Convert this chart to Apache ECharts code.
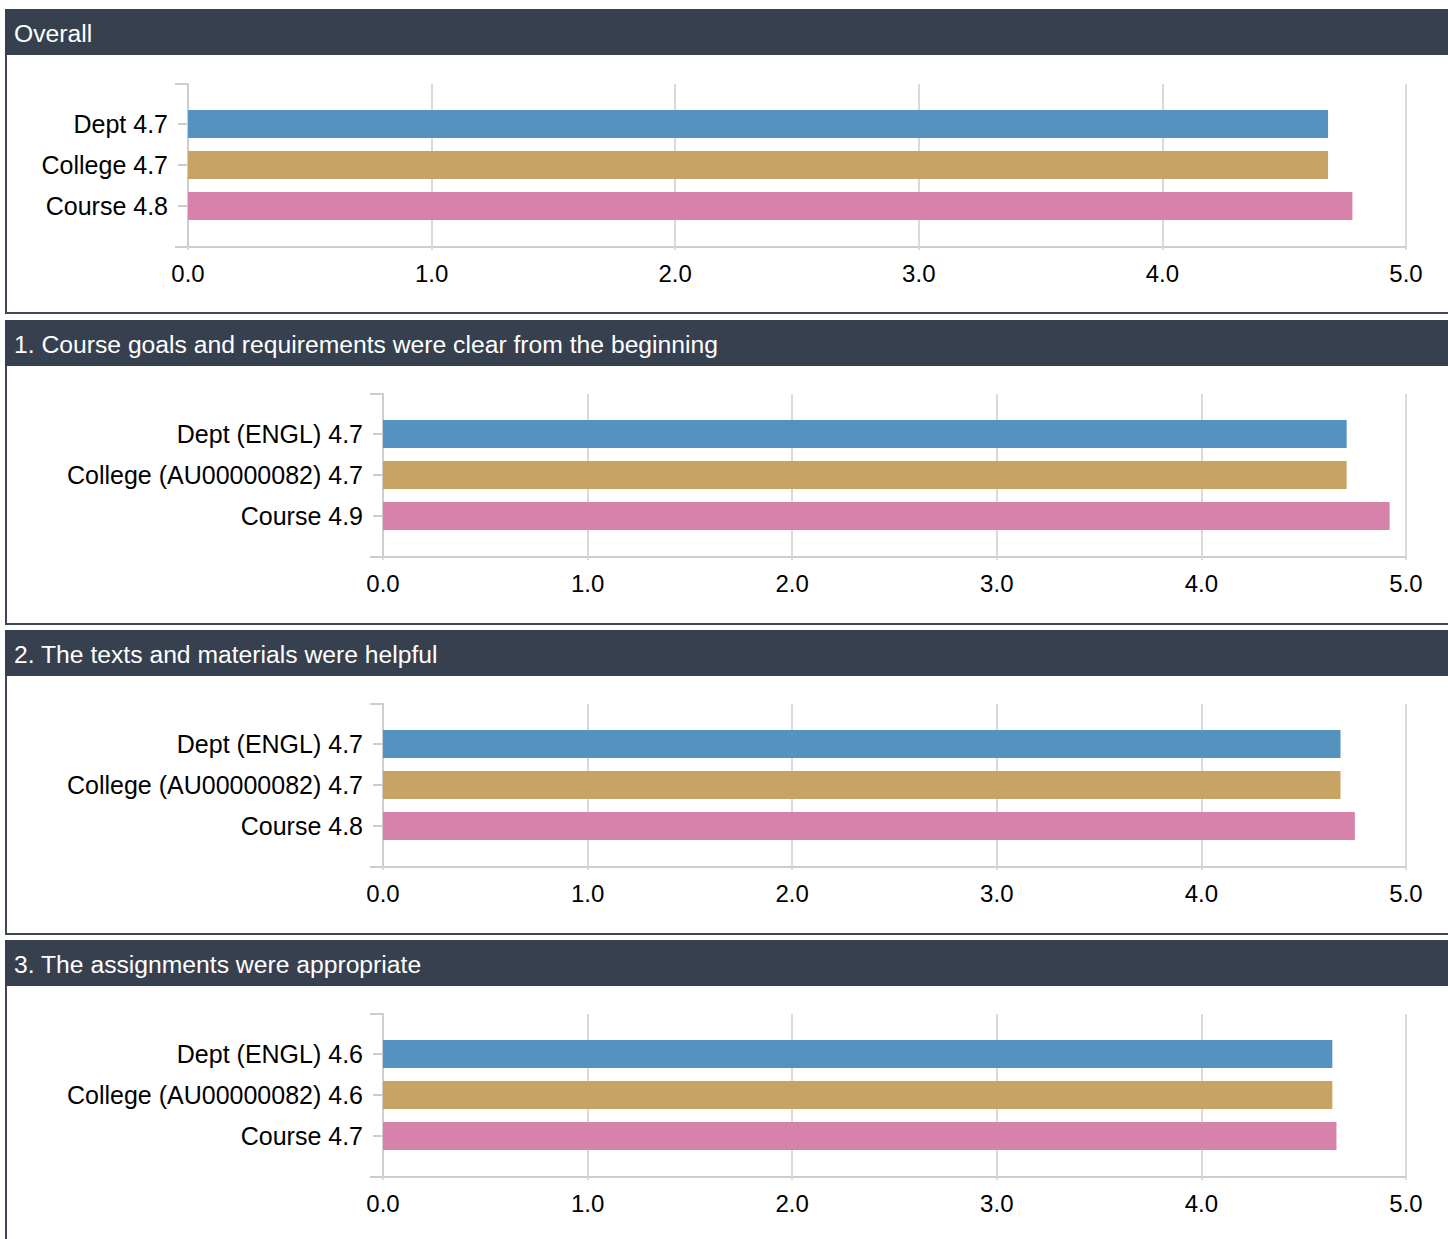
<!DOCTYPE html>
<html>
<head>
<meta charset="utf-8">
<script src="https://cdn.jsdelivr.net/npm/echarts@6/dist/echarts.min.js"></script>
<style>
  html, body { margin: 0; padding: 0; background: #ffffff; overflow: hidden; }
  body { width: 1448px; height: 1239px; position: relative; font-family: "Liberation Sans", Arial, sans-serif; }
  .panel { position: absolute; left: 5px; width: 1452px; }
  .hdr { height: 46px; background: #36404f; color: #ffffff; font-size: 24.7px;
         padding-left: 9px; box-sizing: border-box; padding-top: 3px; line-height: 43px; white-space: nowrap; }
  .box { height: 257px; border: 2px solid #3d4758; border-top: none; background: #ffffff; }
  #chart { position: absolute; left: 0; top: 0; width: 1448px; height: 1239px; z-index: 5; }
</style>
</head>
<body>
<div id="panels"></div>
<div id="chart"></div>
<script>
// ---- data ----
const panelTitles = [
  'Overall',
  '1. Course goals and requirements were clear from the beginning',
  '2. The texts and materials were helpful',
  '3. The assignments were appropriate'
];
const overallCategories = ['Dept', 'College', 'Course'];
const questionCategories = ['Dept (ENGL)', 'College (AU00000082)', 'Course'];
const overallValues = [4.68, 4.68, 4.78];
const q1Values = [4.71, 4.71, 4.92];
const q2Values = [4.68, 4.68, 4.75];
const q3Values = [4.64, 4.64, 4.66];
const xMin = 0, xMax = 5, xInterval = 1;

const panelCategories = [overallCategories, questionCategories, questionCategories, questionCategories];
const panelValues = [overallValues, q1Values, q2Values, q3Values];

// ---- layout ----
const panelTops = [9, 320, 630, 940];
const panelsEl = document.getElementById('panels');
panelTitles.forEach((t, i) => {
  const p = document.createElement('div');
  p.className = 'panel';
  p.style.top = panelTops[i] + 'px';
  const h = document.createElement('div');
  h.className = 'hdr';
  h.textContent = t;
  const b = document.createElement('div');
  b.className = 'box';
  p.appendChild(h);
  p.appendChild(b);
  panelsEl.appendChild(p);
});

const FONT = '"Liberation Sans", Arial, sans-serif';
const axisColor = '#cdcdcd';
const gridColor = '#dadada';
const grids = [], xAxes = [], yAxes = [], series = [];

panelValues.forEach((vals, i) => {
  const dy = 310 * i;
  const left = i === 0 ? 188 : 383;
  const right = 1406;
  // frame grid
  grids.push({ left: left, top: 84 + dy, width: right - left, height: 163, containLabel: false });
  // bar grid
  grids.push({ left: left, top: 103.5 + dy, width: right - left, height: 123, containLabel: false });
  const gf = 2 * i, gb = 2 * i + 1;
  xAxes.push({
    gridIndex: gf, type: 'value', min: xMin, max: xMax, interval: xInterval,
    axisLine: { show: true, lineStyle: { color: axisColor, width: 2 } },
    axisTick: { show: true, length: 3, lineStyle: { color: gridColor, width: 2 } },
    splitLine: { show: true, lineStyle: { color: gridColor, width: 2 } },
    axisLabel: { show: true, margin: 14, fontSize: 24, color: '#000000', fontFamily: FONT,
                 showMinLabel: true, showMaxLabel: true, formatter: v => v.toFixed(1) }
  });
  yAxes.push({
    gridIndex: gf, type: 'value', min: 0, max: 1, interval: 1,
    axisLine: { show: true, lineStyle: { color: axisColor, width: 2 } },
    axisTick: { show: true, length: 13, lineStyle: { color: axisColor, width: 2 } },
    axisLabel: { show: false }, splitLine: { show: false }
  });
  xAxes.push({ gridIndex: gb, type: 'value', min: xMin, max: xMax, show: false });
  const cats = panelCategories[i];
  yAxes.push({
    gridIndex: gb, type: 'category', data: cats, inverse: true, offset: 3,
    axisLine: { show: false },
    axisTick: { show: true, alignWithLabel: true, length: 10, lineStyle: { color: axisColor, width: 2 } },
    splitLine: { show: false },
    axisLabel: { show: true, margin: 17, fontSize: 25, color: '#000000', fontFamily: FONT,
                 formatter: (name, idx) => name + ' ' + vals[idx].toFixed(1) }
  });
  series.push({
    type: 'bar', xAxisIndex: gb, yAxisIndex: gb, data: vals, barWidth: 28,
    colorBy: 'data', silent: true
  });
});

const chart = echarts.init(document.getElementById('chart'), null, { renderer: 'svg' });
chart.setOption({
  animation: false,
  color: ['#5592c0', '#c8a464', '#d682ab'],
  grid: grids, xAxis: xAxes, yAxis: yAxes, series: series
});
</script>
</body>
</html>
